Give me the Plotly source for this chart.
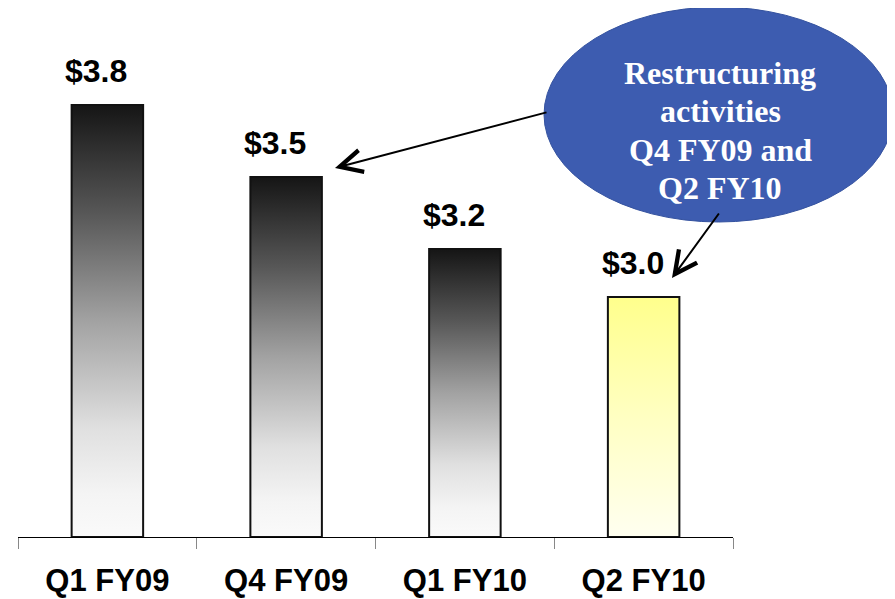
import plotly.graph_objects as go

# dados do gráfico
trimestres = ["Q1 FY09", "Q4 FY09", "Q1 FY10", "Q2 FY10"]
valores = [3.8, 3.5, 3.2, 3.0]
rotulos = ["$3.8", "$3.5", "$3.2", "$3.0"]
destaque = [False, False, False, True]
linhas_balao = ["Restructuring", "activities", "Q4 FY09 and", "Q2 FY10"]

BASE = 2.0
LARGURA = 0.4
FONTE = "Liberation Sans, Arial, sans-serif"

# a página tem margem de 8px no body: figura 887x591, área útil 715x520
W, H = 887, 591
ML, MR, MT, MB = 10, 162, 9, 62
PH = H - MT - MB  # altura da área do gráfico em px


def py(y_tela):
    """posição vertical (px na tela) -> coordenada paper"""
    return (MT + 8 + PH - y_tela) / PH


def px(x_tela):
    return (x_tela - 8 - ML) / (W - ML - MR)


escala_cinza = [[0, "#fafafa"], [0.1, "#f4f4f4"], [0.25, "#e0e0e0"],
                [0.5, "#a2a2a2"], [0.75, "#575757"], [1, "#151515"]]
escala_amarela = [[0, "#fffff0"], [0.5, "#ffffc2"], [1, "#ffff8c"]]

fig = go.Figure()

# barras com gradiente vertical
for i, (v, d) in enumerate(zip(valores, destaque)):
    x0, x1 = i - LARGURA / 2, i + LARGURA / 2
    fig.add_trace(go.Scatter(
        x=[x0, x1, x1, x0, x0],
        y=[BASE, BASE, v, v, BASE],
        mode="lines",
        fill="toself",
        fillgradient=dict(type="vertical",
                          colorscale=escala_amarela if d else escala_cinza,
                          start=BASE, stop=v),
        line=dict(color="#111111", width=2),
        hoverinfo="skip",
        showlegend=False,
    ))

# rótulos de valor
for i, (v, r) in enumerate(zip(valores, rotulos)):
    fig.add_annotation(x=i, y=v, text=f"<b>{r}</b>", showarrow=False,
                       xanchor="center", yanchor="bottom", yshift=14, xshift=-11,
                       font=dict(family=FONTE, size=32, color="black"))

# balão (elipse)
fig.add_shape(type="circle", xref="paper", yref="paper",
              x0=px(544), x1=px(893), y0=py(222), y1=py(7),
              fillcolor="#3d5cb0", line=dict(color="#34529f", width=1),
              layer="above")
for k, linha in enumerate(linhas_balao):
    fig.add_annotation(xref="paper", yref="paper", x=px(720), y=py(73 + 38.3 * k),
                       xanchor="center", yanchor="middle",
                       text=f"<b>{linha}</b>", showarrow=False,
                       font=dict(family="Liberation Serif, Times New Roman, serif",
                                 size=32, color="white"))

# setas
fig.add_annotation(xref="paper", yref="paper", x=px(335), y=py(168), ax=213, ay=-56,
                   text="", showarrow=True, arrowhead=5, arrowsize=2.2,
                   arrowwidth=2, arrowcolor="black", standoff=0)
fig.add_annotation(xref="paper", yref="paper", x=px(672), y=py(278), ax=48, ay=-66,
                   text="", showarrow=True, arrowhead=5, arrowsize=2.2,
                   arrowwidth=2, arrowcolor="black", standoff=0)

fig.update_layout(
    width=W, height=H,
    margin=dict(l=ML, r=MR, t=MT, b=MB, autoexpand=False),
    paper_bgcolor="white", plot_bgcolor="white",
    showlegend=False,
    xaxis=dict(
        range=[-0.5, len(trimestres) - 0.5],
        tickvals=list(range(len(trimestres))),
        ticktext=[f"<b>{t}</b>" for t in trimestres],
        ticks="", showgrid=False, zeroline=False,
        showline=True, linecolor="black", linewidth=1,
        tickfont=dict(family=FONTE, size=31, color="black"),
        ticklabelstandoff=16, automargin=False,
        minor=dict(tickvals=[k - 0.5 for k in range(len(trimestres) + 1)],
                   ticks="outside", ticklen=11, tickcolor="#888888", tickwidth=1),
        fixedrange=True,
    ),
    yaxis=dict(range=[BASE, BASE + PH / 240], visible=False, fixedrange=True,
               automargin=False),
)

fig.write_html("out.html")
